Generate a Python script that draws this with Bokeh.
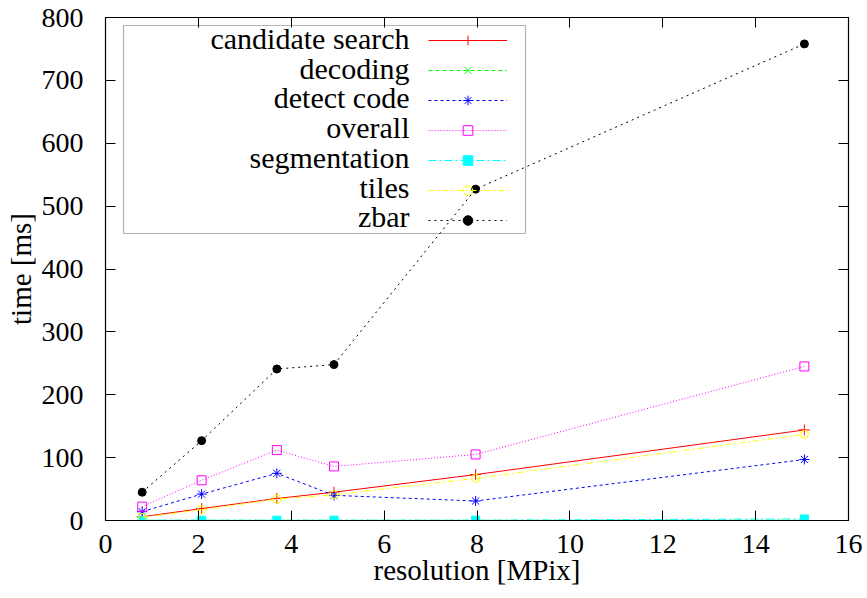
from bokeh.plotting import figure
from bokeh.models import (LinearAxis, Range1d, Legend, LegendItem, Label, BoxAnnotation,
                          FixedTicker, CustomJSTickFormatter)
from bokeh.embed import file_html
from bokeh.resources import INLINE

# ---- data ----
resolution = [0.79, 2.07, 3.69, 4.92, 7.97, 15.05]
candidate_search = [6, 19, 35, 45, 73, 144]
decoding = [0.3, 0.3, 0.3, 0.3, 0.3, 0.5]
detect_code = [14, 42, 75, 40, 31, 97]
overall = [22, 64, 112, 86, 105, 245]
segmentation = [0.5, 0.5, 0.5, 0.5, 0.5, 2.5]
tiles = [5, 17, 34, 41, 67, 137]
zbar = [45, 127, 241, 248, 527, 758]

x_ticks = [0, 2, 4, 6, 8, 10, 12, 14, 16]
y_ticks = [0, 100, 200, 300, 400, 500, 600, 700, 800]

FONT = "Liberation Serif"

p = figure(width=867, height=598, output_backend="svg", toolbar_location=None,
           x_range=Range1d(0, 16), y_range=Range1d(0, 800),
           min_border_left=105, min_border_right=19, min_border_top=17, min_border_bottom=78)
p.grid.visible = False
p.outline_line_color = "black"
p.outline_line_width = 1.2
p.background_fill_color = "white"

for ax in (p.xaxis[0], p.yaxis[0]):
    ax.major_tick_in = 10
    ax.major_tick_out = 0
    ax.minor_tick_in = 0
    ax.minor_tick_out = 0
    ax.axis_line_color = "black"
    ax.major_tick_line_color = "black"
    ax.major_label_text_font = FONT
    ax.major_label_text_font_size = "28px"
    ax.major_label_text_color = "black"
    ax.axis_label_text_font = FONT
    ax.axis_label_text_font_size = "29px"
    ax.axis_label_text_font_style = "normal"
    ax.axis_label_text_color = "black"

p.xaxis[0].ticker = FixedTicker(ticks=x_ticks)
p.yaxis[0].ticker = FixedTicker(ticks=y_ticks)
p.xaxis[0].axis_label = "resolution [MPix]"
p.yaxis[0].axis_label = "time [ms]"
p.xaxis[0].major_label_standoff = 14
p.xaxis[0].axis_label_standoff = -2
p.yaxis[0].major_label_standoff = 22
p.yaxis[0].axis_label_standoff = 2

# mirrored ticks on top and right
blank = CustomJSTickFormatter(code="return ''")
top = LinearAxis(ticker=FixedTicker(ticks=x_ticks), major_tick_in=10, major_tick_out=0,
                 minor_tick_in=0, minor_tick_out=0, formatter=blank,
                 axis_line_color="black")
right = LinearAxis(ticker=FixedTicker(ticks=y_ticks), major_tick_in=10, major_tick_out=0,
                   minor_tick_in=0, minor_tick_out=0, formatter=blank,
                   axis_line_color="black")
p.add_layout(top, "above")
p.add_layout(right, "right")

items = []

def series(name, ys, color, dash, marker, fill, size):
    r = p.line(resolution, ys, line_color=color, line_dash=dash, line_width=1)
    m = p.scatter(resolution, ys, marker=marker, size=size, line_color=color,
                  fill_color=color if fill else None, line_width=1)
    items.append((name, [r, m]))

series("candidate search", candidate_search, "#ff0000", "solid", "cross", False, 11)
series("decoding", decoding, "#00ff00", "4 3", "x", False, 9)
series("detect code", detect_code, "#0000ff", "3 3", "asterisk", False, 10)
series("overall", overall, "#ff00ff", "1 2", "square", False, 9)
series("segmentation", segmentation, "#00ffff", "8 3 2 3", "square", True, 8)
series("tiles", tiles, "#ffff00", "6 3 2 3", "circle", False, 8)
series("zbar", zbar, "#000000", "2 4", "circle", True, 8)

legend = Legend(items=[LegendItem(label="", renderers=rs) for _, rs in items],
                location=(323, 288.5), glyph_width=79, glyph_height=24, spacing=6,
                padding=0, margin=0, label_standoff=0, label_width=0, label_height=0,
                border_line_alpha=0, background_fill_alpha=0)
p.add_layout(legend, "center")

p.add_layout(BoxAnnotation(left=18, right=420, top=495, bottom=287,
                           left_units="screen", right_units="screen",
                           top_units="screen", bottom_units="screen",
                           fill_alpha=0, line_color="black", line_width=1.2))

for k, (name, _) in enumerate(items):
    p.add_layout(Label(x=304, y=482 - 29.7 * k, x_units="screen", y_units="screen",
                       text=name, text_align="right", text_baseline="middle",
                       text_font=FONT, text_font_size="30px", text_color="black"))

open("out.html", "w").write(file_html(p, INLINE))
